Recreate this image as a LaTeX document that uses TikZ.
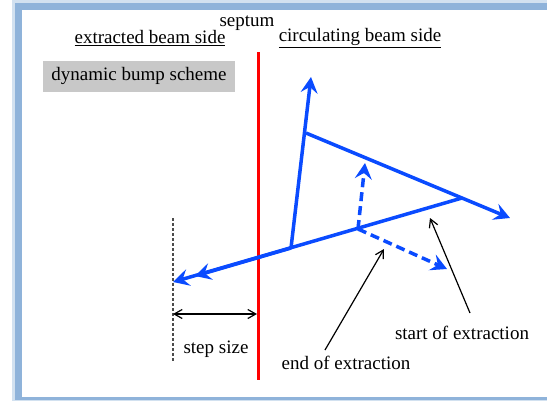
\documentclass[tikz,border=0pt]{standalone}
\usepackage{fontspec}
\setmainfont{Liberation Serif}
\usetikzlibrary{arrows.meta}
\definecolor{framecol}{HTML}{8FB3DA}
\definecolor{beam}{HTML}{0A4BFF}
\definecolor{boxgray}{HTML}{C8C8C8}
\tikzset{
  beamline/.style={draw=beam, line width=3.5pt},
  beamarrow/.style={beamline, -{Stealth[length=16pt,width=17pt,inset=6pt]}},
  dashbeam/.style={beamarrow, dash pattern=on 9pt off 5pt},
  pointer/.style={draw=black, line width=1.2pt, -{Straight Barb[length=8pt,width=9pt]}},
  lbl/.style={font=\fontsize{19}{22}\selectfont, inner sep=0pt}
}
\begin{document}
\begin{tikzpicture}[x=1pt,y=-1pt]
\useasboundingbox (0,0) rectangle (547,400);
% frame
\fill[framecol!40] (12,0) rectangle (560,404);
\fill[framecol] (15,3) rectangle (560,400);
\fill[white] (22,10) rectangle (547,397);
% titles
\node[lbl, anchor=base] (septum) at (247,26) {septum};
\node[lbl] (ext) at (150,38) {\underline{extracted beam side}};
\node[lbl] (circ) at (360,38) {\underline{circulating beam side}};
\node[lbl, fill=boxgray, minimum width=192pt, minimum height=31pt] (dyn) at (139,76) {dynamic bump scheme};
% septum
\coordinate (s1) at (258,52);
\coordinate (s2) at (258,380);
\draw[red, line width=3pt] (s1) -- (s2);
% step size reference
\coordinate (g1) at (173,218);
\coordinate (g2) at (173,362);
\draw[gray!60!black, line width=1.3pt, dash pattern=on 3pt off 2pt] (g1) -- (g2);
\coordinate (ss1) at (173,314);
\coordinate (ss2) at (257,314);
\draw[black, line width=1.2pt, {Straight Barb[length=8pt,width=9pt]}-{Straight Barb[length=8pt,width=9pt]}] (ss1) -- (ss2);
\node[lbl] (step) at (216,349) {step size};
% beam geometry
\coordinate (A) at (291,248);
\coordinate (B) at (306,133);
\coordinate (Ttop) at (311,77);
\coordinate (C) at (462,198);
\coordinate (Tright) at (510,218);
\coordinate (D) at (358,229);
\coordinate (Tl1) at (173,282);
\coordinate (Tl2) at (195,276);
\coordinate (Dup) at (365,163);
\coordinate (Ddown) at (447,269);
\draw[beamarrow] (A) -- (Ttop);
\draw[beamarrow] (B) -- (Tright);
\draw[beamarrow] (C) -- (Tl1);
\draw[beamarrow] (A) -- (Tl2);
\draw[dashbeam] (D) -- (Dup);
\draw[dashbeam] (D) -- (Ddown);
% labels with pointers
\node[lbl] (start) at (462,333) {start of extraction};
\node[lbl] (end) at (346,363) {end of extraction};
\coordinate (ps) at (470,313);
\coordinate (pst) at (430,218);
\coordinate (pe) at (325,350);
\coordinate (pet) at (384,249);
\draw[pointer] (ps) -- (pst);
\draw[pointer] (pe) -- (pet);
\end{tikzpicture}
\end{document}
